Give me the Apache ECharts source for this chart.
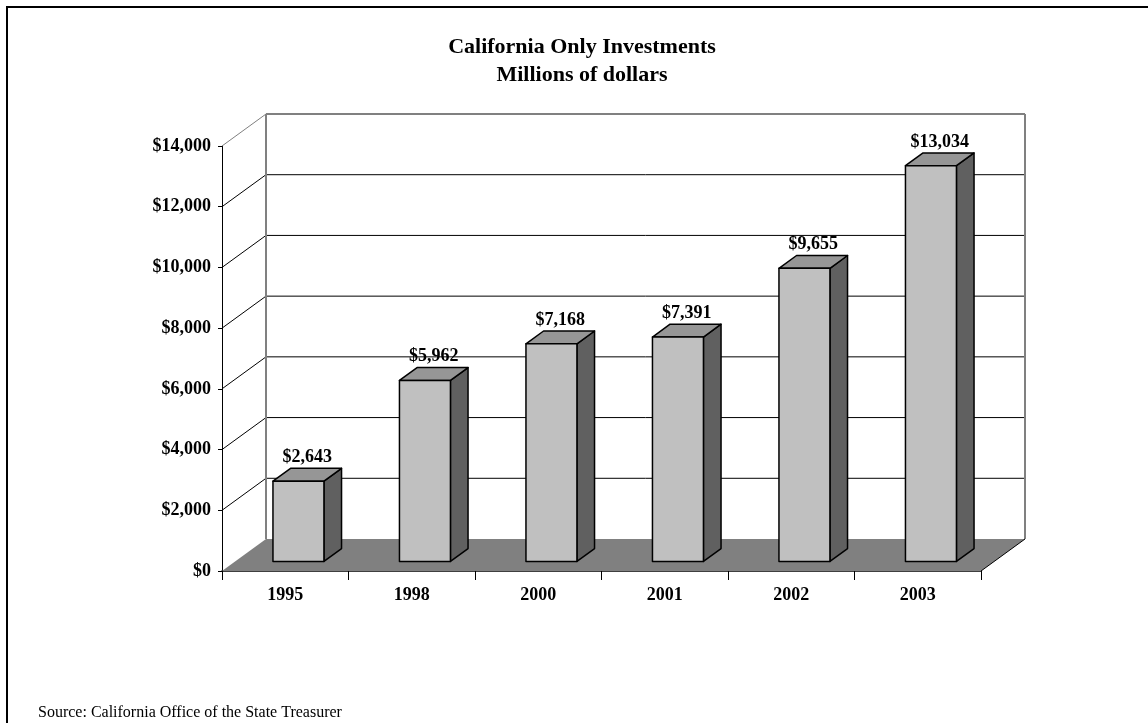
<!DOCTYPE html>
<html><head><meta charset="utf-8">
<script src="https://cdn.jsdelivr.net/npm/echarts@6/dist/echarts.min.js"></script>
<style>html,body{margin:0;padding:0;background:#fff}#c{width:1148px;height:723px}</style>
</head><body><div id="c"></div>
<script>
const years = ['1995','1998','2000','2001','2002','2003'];
const values = [2643, 5962, 7168, 7391, 9655, 13034];
const yTicks = [0, 2000, 4000, 6000, 8000, 10000, 12000, 14000];
const titleText = 'California Only Investments\nMillions of dollars';
const sourceText = 'Source: California Office of the State Treasurer';

const FONT = "'Liberation Serif','Times New Roman',serif";
const DEPTH = [44, -32];
const GAP = 0.3, BAR_D = 0.4, BAR_W = 0.403;
const fmt = v => '$' + Number(v).toLocaleString('en-US');

const chart = echarts.init(document.getElementById('c'), null, {renderer: 'canvas'});

function wallItem(params, api) {
  const children = [];
  const bw = api.size([1, 0])[0];
  const n = years.length;
  const x0 = api.coord([0, 0])[0] - bw / 2;
  const x1 = api.coord([n - 1, 0])[0] + bw / 2;
  const dx = DEPTH[0], dy = DEPTH[1];
  const top = yTicks[yTicks.length - 1];
  yTicks.forEach((t, i) => {
    const y = api.coord([0, t])[1];
    const isTop = i === yTicks.length - 1;
    if (t !== 0) {
      children.push({type: 'line', shape: {x1: x0 + dx, y1: y + dy, x2: x1 + dx, y2: y + dy},
        style: {stroke: isTop ? '#808080' : '#000', lineWidth: isTop ? 2 : 1}});
      children.push({type: 'line', shape: {x1: x0, y1: y, x2: x0 + dx, y2: y + dy},
        style: {stroke: isTop ? '#808080' : '#000', lineWidth: 1}});
    }
  });
  const yTop = api.coord([0, top])[1], yBot = api.coord([0, 0])[1];
  children.push({type: 'line', shape: {x1: x0 + dx, y1: yTop + dy, x2: x0 + dx, y2: yBot + dy}, style: {stroke: '#808080', lineWidth: 2}});
  children.push({type: 'line', shape: {x1: x1 + dx, y1: yTop + dy, x2: x1 + dx, y2: yBot + dy}, style: {stroke: '#808080', lineWidth: 2}});
  children.push({type: 'polygon', shape: {points: [[x0, yBot], [x1, yBot], [x1 + dx, yBot + dy], [x0 + dx, yBot + dy]]},
    style: {fill: '#808080', stroke: null}});
  children.push({type: 'line', shape: {x1: x1, y1: yBot, x2: x1 + dx, y2: yBot + dy}, style: {stroke: '#000', lineWidth: 1}});
  return {type: 'group', children};
}

function barItem(params, api) {
  const i = api.value(0), v = api.value(1);
  const bw = api.size([1, 0])[0];
  const c = api.coord([i, v]);
  const b = api.coord([i, 0]);
  const gx = DEPTH[0] * GAP, gy = DEPTH[1] * GAP;
  const dx = DEPTH[0] * BAR_D, dy = DEPTH[1] * BAR_D;
  const w = bw * BAR_W;
  const L = c[0] + gx - w / 2, R = L + w;
  const T = c[1] + gy, B = b[1] + gy;
  const st = {stroke: '#000', lineWidth: 1.5, lineJoin: 'round'};
  return {type: 'group', children: [
    {type: 'polygon', shape: {points: [[R, T], [R + dx, T + dy], [R + dx, B + dy], [R, B]]}, style: Object.assign({fill: '#606060'}, st)},
    {type: 'polygon', shape: {points: [[L, T], [L + dx, T + dy], [R + dx, T + dy], [R, T]]}, style: Object.assign({fill: '#969696'}, st)},
    {type: 'rect', shape: {x: L, y: T, width: w, height: B - T}, style: Object.assign({fill: '#C0C0C0'}, st)},
    {type: 'text', x: (L + R) / 2 + dx / 2, y: T + dy - 11,
      style: {text: fmt(v), fill: '#000', font: 'bold 18px ' + FONT, align: 'center', verticalAlign: 'middle'}}
  ]};
}

const option = {
  backgroundColor: '#fff',
  animation: false,
  title: {
    text: titleText, left: 582, top: 33, padding: 0, textAlign: 'center',
    textStyle: {fontFamily: FONT, fontWeight: 'bold', fontSize: 22, lineHeight: 28, color: '#000'}
  },
  grid: {left: 222, top: 146, width: 759, height: 425, containLabel: false},
  xAxis: {
    type: 'category', data: years,
    axisLine: {show: true, lineStyle: {color: '#000', width: 1.5}},
    axisTick: {show: true, length: 9, lineStyle: {color: '#000', width: 1}},
    axisLabel: {margin: 15, fontFamily: FONT, fontWeight: 'bold', fontSize: 18, color: '#000'},
    splitLine: {show: false}
  },
  yAxis: {
    type: 'value', min: 0, max: 14000, interval: 2000,
    axisLine: {show: true, lineStyle: {color: '#000', width: 1}},
    axisTick: {show: true, length: 4, lineStyle: {color: '#000', width: 1}},
    axisLabel: {margin: 11, formatter: fmt, fontFamily: FONT, fontWeight: 'bold', fontSize: 18, color: '#000'},
    splitLine: {show: false}
  },
  graphic: [
    {type: 'polyline', shape: {points: [[7, 723], [7, 7], [1148, 7]]}, style: {stroke: '#000', lineWidth: 2, fill: null}, z: 10},
    {type: 'text', x: 38, y: 713, style: {text: sourceText, font: '16px ' + FONT, fill: '#000', verticalAlign: 'middle'}}
  ],
  series: [
    {type: 'custom', name: 'wall', renderItem: wallItem, data: [[0, 0]], clip: false, z: 1, silent: true},
    {type: 'custom', name: 'bars', renderItem: barItem, data: values.map((v, i) => [i, v]),
      encode: {x: 0, y: 1}, clip: false, z: 3}
  ]
};
chart.setOption(option);
</script>
</body></html>
